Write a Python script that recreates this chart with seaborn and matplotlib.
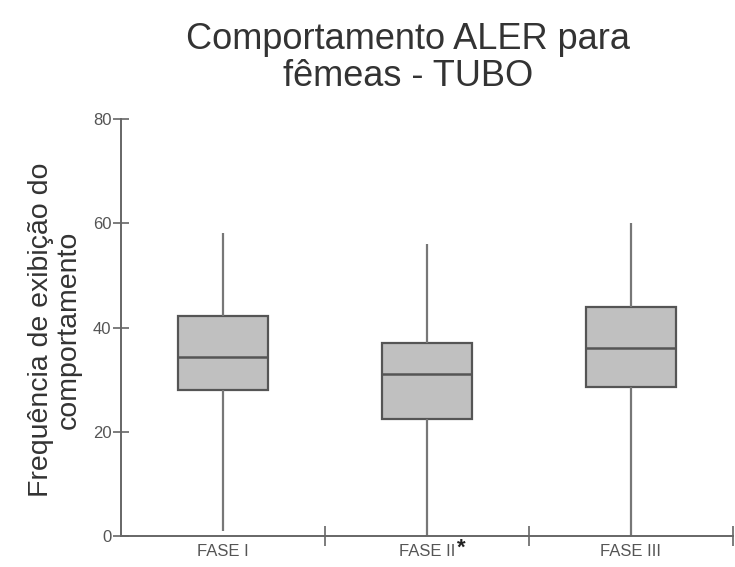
import matplotlib
matplotlib.use("Agg")
import matplotlib.pyplot as plt
import seaborn as sns
import pandas as pd

sns.set_style("white")
plt.rcParams['font.family'] = ['Liberation Sans', 'DejaVu Sans']

categories = ["FASE I", "FASE II", "FASE III"]
mins = [1.0, 0.0, 0.0]
q1s = [28.0, 22.4, 28.5]
medians = [34.4, 31.1, 36.0]
q3s = [42.2, 37.1, 44.0]
maxs = [58.1, 56.0, 60.1]
yticks = [0, 20, 40, 60, 80]

rows = []
for c, a, b, m, d, e in zip(categories, mins, q1s, medians, q3s, maxs):
    for v in (a, b, m, d, e):
        rows.append({"fase": c, "valor": v})
df = pd.DataFrame(rows)

fig = plt.figure(figsize=(7.35, 5.67), dpi=100)
ax = fig.add_axes([121/735, 31/567, 612/735, 417/567])

sns.boxplot(data=df, x="fase", y="valor", order=categories, ax=ax,
            whis=(0, 100), width=0.44, color="#c0c0c0", saturation=1,
            linewidth=1.6, showcaps=False,
            boxprops=dict(facecolor="#c0c0c0", edgecolor="#555555"),
            medianprops=dict(color="#555555", linewidth=1.8),
            whiskerprops=dict(color="#777777", linewidth=1.6))

ax.set_xlim(-0.5, 2.5)
ax.set_ylim(0, 80)
ax.set_xlabel("")
ax.set_ylabel("")
for s in ("top", "right"):
    ax.spines[s].set_visible(False)
for s in ("left", "bottom"):
    ax.spines[s].set_color("#666666")
    ax.spines[s].set_linewidth(1.4)

ax.set_yticks(yticks)
ax.set_yticklabels([str(t) for t in yticks])
ax.tick_params(axis="y", left=True, direction="inout", length=12, width=1.2,
               color="#666666", labelcolor="#555555", labelsize=12, pad=1)
ax.set_xticks(range(len(categories)))
ax.set_xticklabels(categories)
ax.tick_params(axis="x", which="major", bottom=True, length=0,
               labelcolor="#555555", labelsize=12, pad=6)
ax.set_xticks([0.5, 1.5, 2.5], minor=True)
ax.tick_params(axis="x", which="minor", bottom=True, direction="inout",
               length=14, width=1.2, color="#666666")

ax.annotate("*", xy=(1.17, 0), xycoords=("data", "axes fraction"),
            xytext=(0, -9), textcoords="offset points", ha="center",
            va="center", fontsize=16, fontweight="bold", color="#222222")

fig.text(408/735, 1 - 58/567, "Comportamento ALER para\nfêmeas - TUBO",
         ha="center", va="center", fontsize=26, color="#333333",
         linespacing=1.05)
fig.text(55/735, 1 - 330/567, "Frequência de exibição do\ncomportamento",
         ha="center", va="center", rotation=90, fontsize=20.5,
         color="#333333", linespacing=1.05)

fig.savefig("out.png", dpi=100)
